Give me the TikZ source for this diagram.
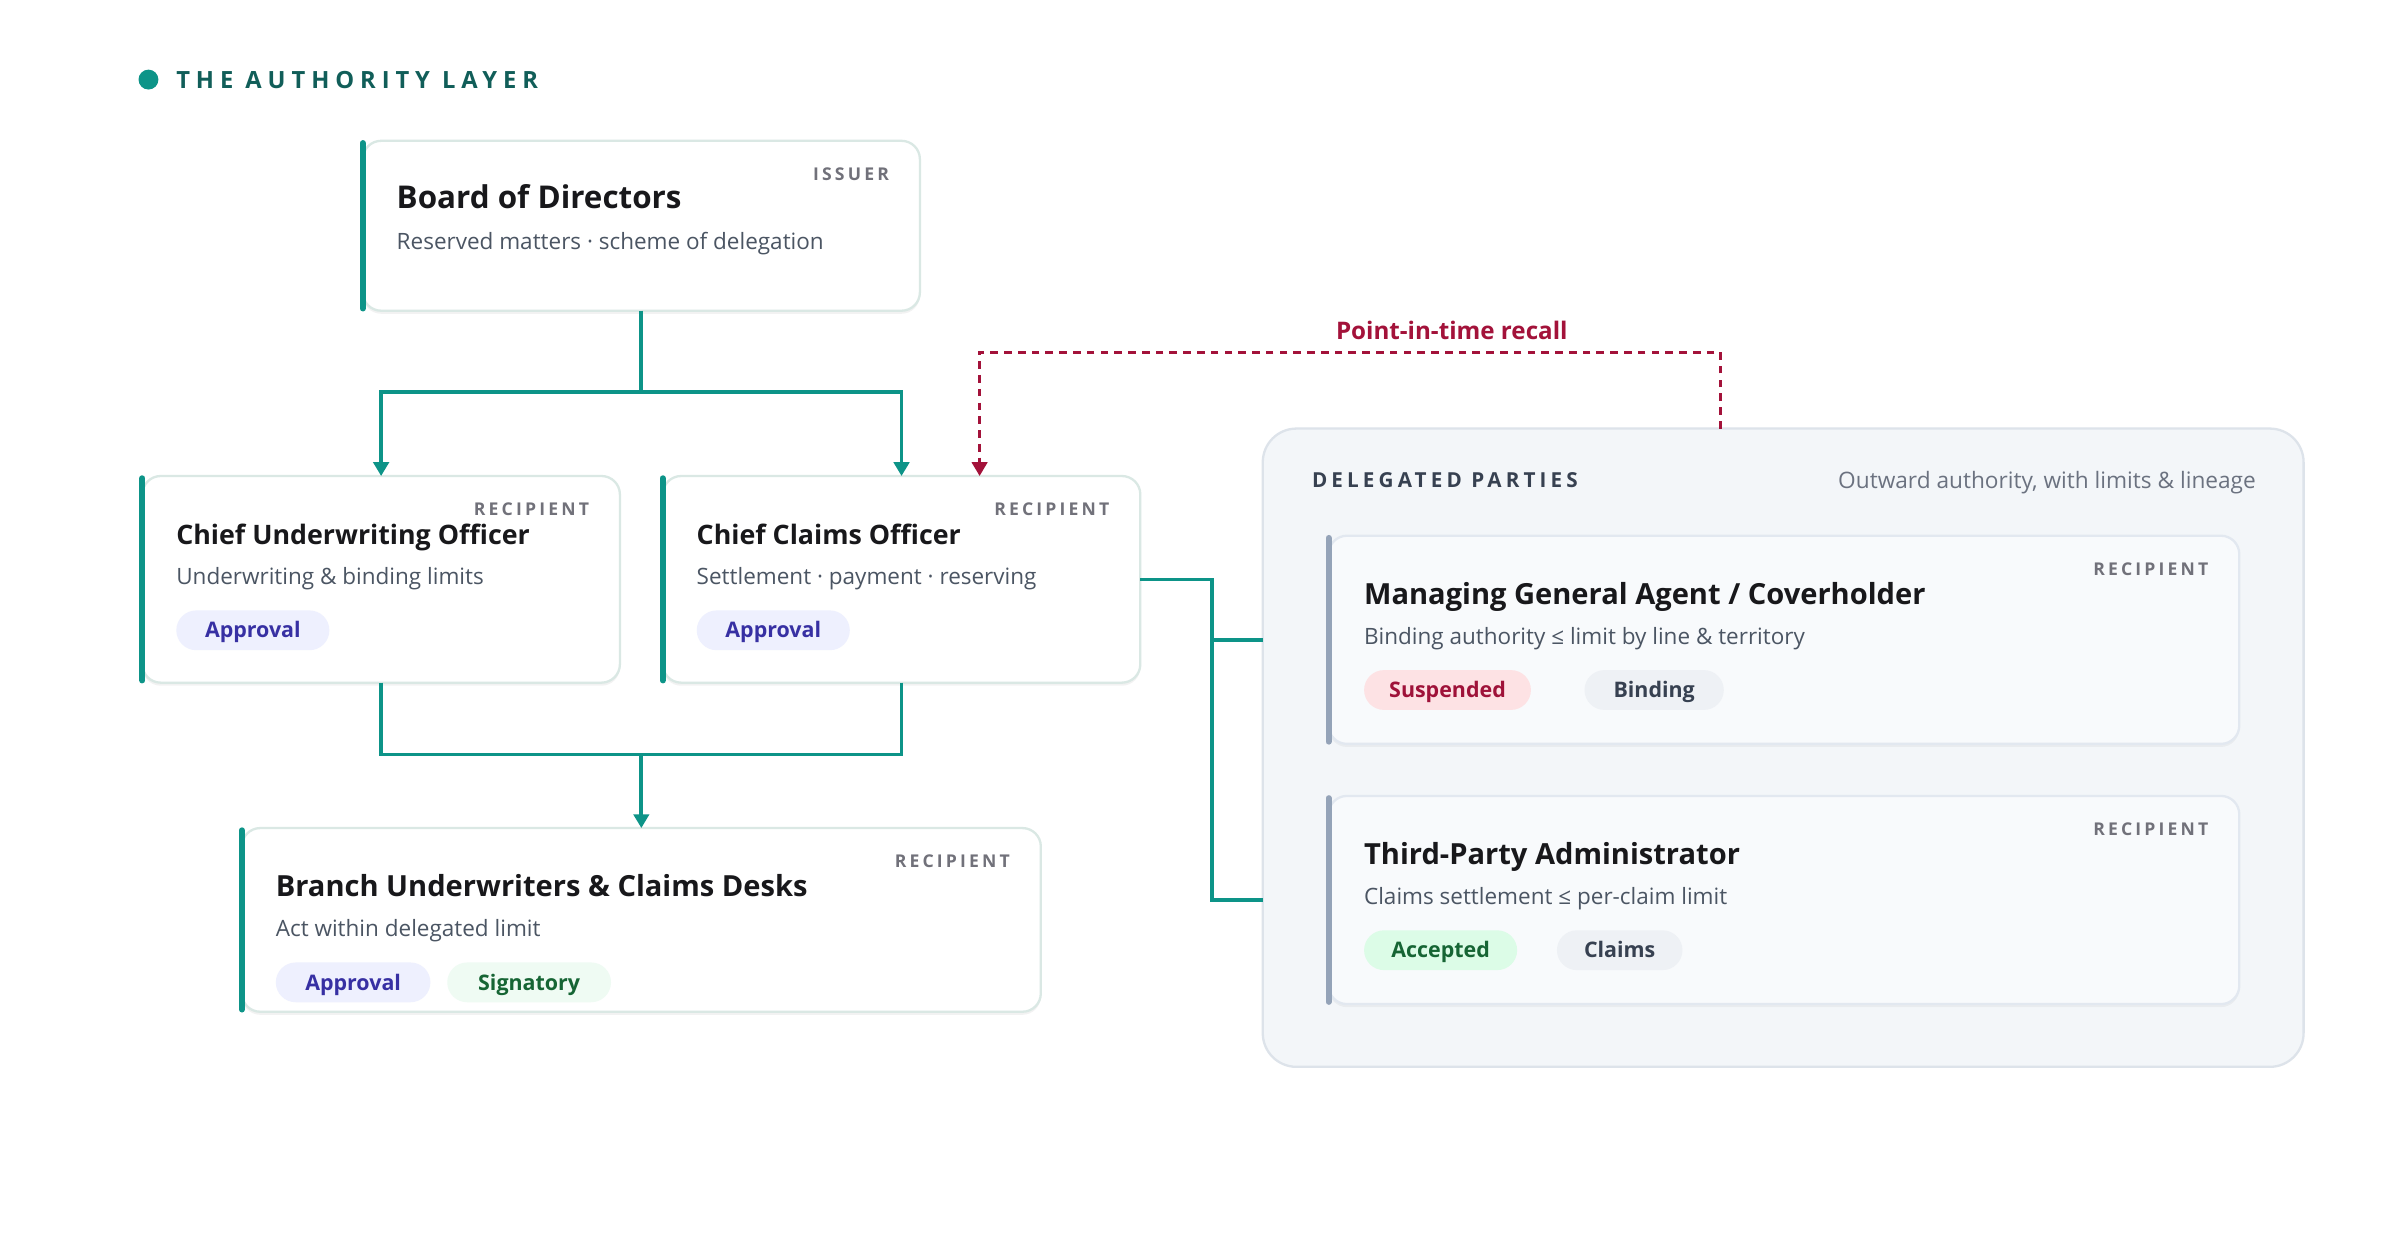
\documentclass[tikz,border=0pt]{standalone}
\usepackage{fontspec}
\setmainfont{Open Sans}
\newfontfamily\spcA[LetterSpace=18]{Open Sans}
\newfontfamily\spcB[LetterSpace=25]{Open Sans}
\newfontfamily\spcC[LetterSpace=20]{Open Sans}
\usetikzlibrary{arrows.meta,calc,shadows}
\definecolor{tealc}{HTML}{0D9488}
\definecolor{headc}{HTML}{115E59}
\definecolor{cardline}{HTML}{DAE8E4}
\definecolor{ink}{HTML}{18181B}
\definecolor{subc}{HTML}{4B5563}
\definecolor{labc}{HTML}{71717A}
\definecolor{apprbg}{HTML}{EEF0FE}
\definecolor{apprtx}{HTML}{3730A3}
\definecolor{sigbg}{HTML}{EFFBF3}
\definecolor{sigtx}{HTML}{166534}
\definecolor{susbg}{HTML}{FDE2E4}
\definecolor{sustx}{HTML}{9F1239}
\definecolor{neubg}{HTML}{EEF1F5}
\definecolor{neutx}{HTML}{374151}
\definecolor{accbg}{HTML}{DCFCE7}
\definecolor{acctx}{HTML}{166534}
\definecolor{recallc}{HTML}{A3123A}
\definecolor{contfill}{HTML}{F3F6F9}
\definecolor{contline}{HTML}{DDE3EA}
\definecolor{dfill}{HTML}{F8FAFC}
\definecolor{dline}{HTML}{E2E8F0}
\definecolor{dbar}{HTML}{94A3B8}
\definecolor{dhead}{HTML}{374151}
\definecolor{dnote}{HTML}{6B7280}
\tikzset{
  card/.style={draw=cardline, line width=1.5pt, fill=white, rounded corners=12pt,
    inner sep=0pt, outer sep=0pt, anchor=north west,
    drop shadow={shadow xshift=0pt, shadow yshift=-2pt, opacity=0.05, fill=black}},
  dcard/.style={draw=dline, line width=1.5pt, fill=dfill, rounded corners=12pt,
    inner sep=0pt, outer sep=0pt, anchor=north west,
    drop shadow={shadow xshift=0pt, shadow yshift=-2pt, opacity=0.04, fill=black}},
  tbar/.style={draw=tealc, line width=4pt, line cap=round, shorten <=1.5pt, shorten >=1.5pt},
  gbar/.style={draw=dbar, line width=4pt, line cap=round, shorten <=1.5pt, shorten >=1.5pt},
  ttl/.style={anchor=base west, inner sep=0pt, text=ink, font=\fontsize{17.5}{20}\selectfont\bfseries},
  ttlL/.style={anchor=base west, inner sep=0pt, text=ink, font=\fontsize{19}{22}\selectfont\bfseries},
  ttlXL/.style={anchor=base west, inner sep=0pt, text=ink, font=\fontsize{20.5}{24}\selectfont\bfseries},
  subt/.style={anchor=base west, inner sep=0pt, text=subc, font=\fontsize{14.7}{17}\selectfont},
  role/.style={anchor=base east, inner sep=0pt, text=labc, font=\fontsize{11.5}{13}\selectfont\spcA\bfseries},
  pill/.style={anchor=west, rounded corners=13pt, minimum height=26pt, text height=10pt, text depth=0pt,
    inner xsep=0pt, font=\fontsize{14}{16}\selectfont\bfseries},
  tline/.style={draw=tealc, line width=2.4pt},
  tarr/.style={-{Triangle[width=10pt,length=9pt]}},
  rline/.style={draw=recallc, line width=2pt, dash pattern=on 5pt off 4pt, -{Triangle[width=10pt,length=9pt]}},
}
\begin{document}
\begin{tikzpicture}[x=1pt,y=-1pt]
\useasboundingbox (0,0) rectangle (1568,810.1);
\fill[white] (0,0) rectangle (1568,810.1);

% header
\node[circle, fill=tealc, minimum size=13pt, inner sep=0pt] (dot) at (97,52) {};
\node[anchor=base west, inner sep=0pt, text=headc, font=\fontsize{15.5}{18}\selectfont\spcB\bfseries] (hdr) at (115,57.8) {THE AUTHORITY LAYER};

% delegated container
\node[draw=contline, fill=contfill, line width=1.5pt, rounded corners=22pt, inner sep=0pt, outer sep=0pt,
  minimum width=680pt, minimum height=417pt, anchor=north west] (deleg) at (825,280) {};
\node[anchor=base west, inner sep=0pt, text=dhead, font=\fontsize{13.5}{15}\selectfont\spcC\bfseries] (delegT) at ($(deleg.north west)+(32,38.8)$) {DELEGATED PARTIES};
\node[anchor=base east, inner sep=0pt, text=dnote, font=\fontsize{14.8}{17}\selectfont] (delegN) at ($(deleg.north east)+(-31,39.3)$) {Outward authority, with limits \& lineage};

% board
\node[card, minimum width=364pt, minimum height=111pt] (board) at (237,92) {};
\draw[tbar] (board.north west) -- (board.south west);
\node[ttlXL] (boardT) at ($(board.north west)+(22,44)$) {Board of Directors};
\node[subt] (boardS) at ($(board.north west)+(22,71)$) {Reserved matters · scheme of delegation};
\node[role] (boardR) at ($(board.north east)+(-20,26)$) {ISSUER};

% CUO
\node[card, minimum width=312pt, minimum height=135pt] (cuo) at (93,311) {};
\draw[tbar] (cuo.north west) -- (cuo.south west);
\node[ttl] (cuoT) at ($(cuo.north west)+(22,44.5)$) {Chief Underwriting Officer};
\node[subt] (cuoS) at ($(cuo.north west)+(22,71)$) {Underwriting \& binding limits};
\node[role] (cuoR) at ($(cuo.north east)+(-20,26)$) {RECIPIENT};
\node[pill, fill=apprbg, text=apprtx, minimum width=100pt] (cuoP) at ($(cuo.north west)+(22,100.8)$) {Approval};

% CCO
\node[card, minimum width=312pt, minimum height=135pt] (cco) at (433,311) {};
\draw[tbar] (cco.north west) -- (cco.south west);
\node[ttl] (ccoT) at ($(cco.north west)+(22,44.5)$) {Chief Claims Officer};
\node[subt] (ccoS) at ($(cco.north west)+(22,71)$) {Settlement · payment · reserving};
\node[role] (ccoR) at ($(cco.north east)+(-20,26)$) {RECIPIENT};
\node[pill, fill=apprbg, text=apprtx, minimum width=100pt] (ccoP) at ($(cco.north west)+(22,100.8)$) {Approval};

% Branch
\node[card, minimum width=522pt, minimum height=120pt] (branch) at (158,541) {};
\draw[tbar] (branch.north west) -- (branch.south west);
\node[ttlL] (branchT) at ($(branch.north west)+(22,45)$) {Branch Underwriters \& Claims Desks};
\node[subt] (branchS) at ($(branch.north west)+(22,71)$) {Act within delegated limit};
\node[role] (branchR) at ($(branch.north east)+(-20,26)$) {RECIPIENT};
\node[pill, fill=apprbg, text=apprtx, minimum width=101pt] (branchP1) at ($(branch.north west)+(22,100.8)$) {Approval};
\node[pill, fill=sigbg, text=sigtx, minimum width=107pt] (branchP2) at ($(branch.north west)+(134,100.8)$) {Signatory};

% MGA
\node[dcard, minimum width=595pt, minimum height=136pt] (mga) at (868,350) {};
\draw[gbar] (mga.north west) -- (mga.south west);
\node[ttlL] (mgaT) at ($(mga.north west)+(23,45)$) {Managing General Agent / Coverholder};
\node[subt] (mgaS) at ($(mga.north west)+(23,71)$) {Binding authority ≤ limit by line \& territory};
\node[role] (mgaR) at ($(mga.north east)+(-20,26)$) {RECIPIENT};
\node[pill, fill=susbg, text=sustx, minimum width=109pt] (mgaP1) at ($(mga.north west)+(23,100.8)$) {Suspended};
\node[pill, fill=neubg, text=neutx, minimum width=91pt] (mgaP2) at ($(mga.north west)+(167,100.8)$) {Binding};

% TPA
\node[dcard, minimum width=595pt, minimum height=136pt] (tpa) at (868,520) {};
\draw[gbar] (tpa.north west) -- (tpa.south west);
\node[ttlL] (tpaT) at ($(tpa.north west)+(23,45)$) {Third-Party Administrator};
\node[subt] (tpaS) at ($(tpa.north west)+(23,71)$) {Claims settlement ≤ per-claim limit};
\node[role] (tpaR) at ($(tpa.north east)+(-20,26)$) {RECIPIENT};
\node[pill, fill=accbg, text=acctx, minimum width=100pt] (tpaP1) at ($(tpa.north west)+(23,100.8)$) {Accepted};
\node[pill, fill=neubg, text=neutx, minimum width=82pt] (tpaP2) at ($(tpa.north west)+(149,100.8)$) {Claims};

% connectors
\coordinate (j1) at ($(board.south)+(0,53)$);
\draw[tline] (board.south) -- (j1);
\draw[tline, tarr] (j1) -| (cuo.north);
\draw[tline, tarr] (j1) -| (cco.north);

\coordinate (j2) at ($(branch.north)+(0,-48)$);
\draw[tline] (cuo.south) |- (j2);
\draw[tline] (cco.south) |- (j2);
\draw[tline, tarr] (j2) -- (branch.north);

\coordinate (bus) at ($(cco.east)+(47,0)$);
\draw[tline] (cco.east) -- (bus) -- (bus |- tpa.west) -- (deleg.west |- tpa.west);
\draw[tline] (bus |- mga.west) -- (deleg.west |- mga.west);

% recall
\coordinate (rs) at ($(deleg.north west)+(299,0)$);
\coordinate (re) at ($(cco.north west)+(207,0)$);
\draw[rline] (rs) -- ($(rs)+(0,-50)$) -| (re);
\node[anchor=base, inner sep=0pt, text=recallc, font=\fontsize{15.8}{18}\selectfont\bfseries] (rlab) at (948.5,221.5) {Point-in-time recall};
\end{tikzpicture}
\end{document}
